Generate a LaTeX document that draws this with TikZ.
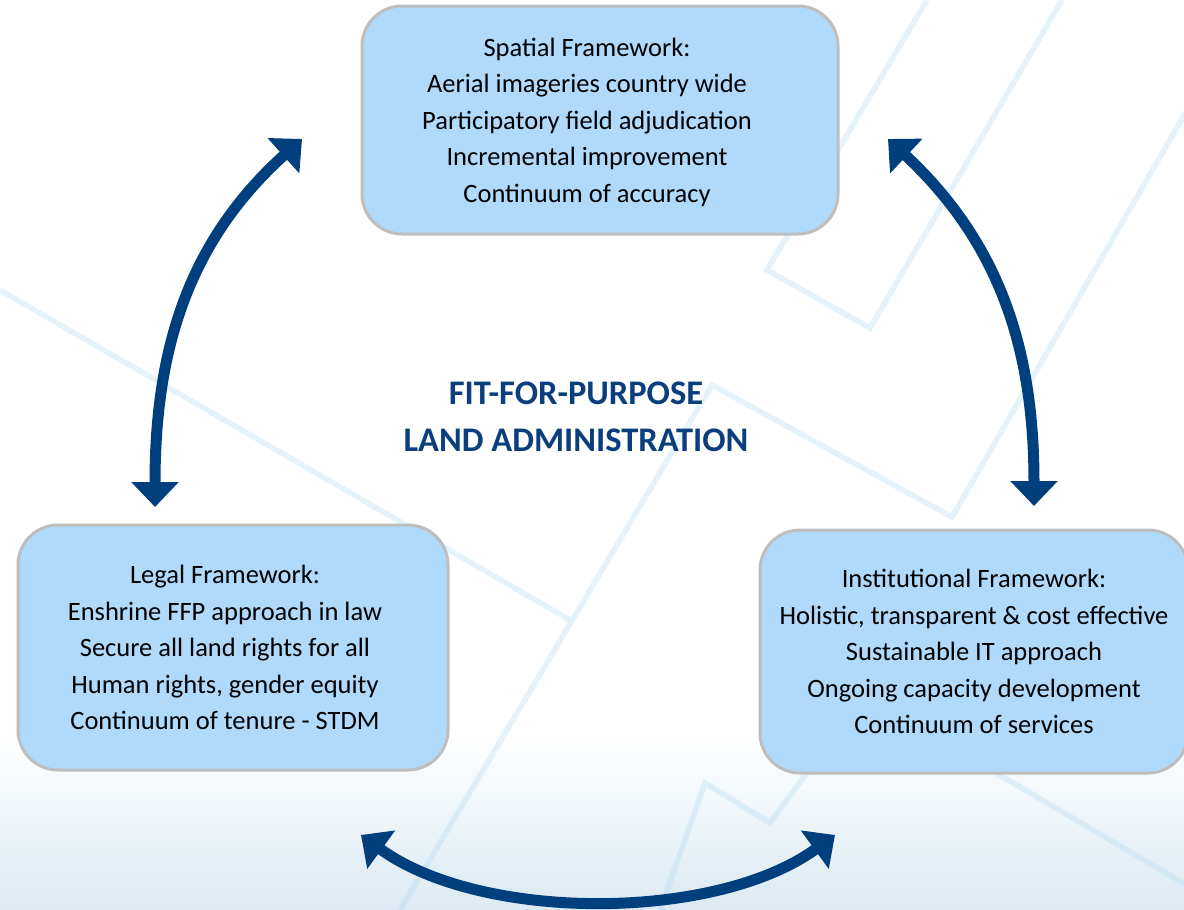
\documentclass[tikz,border=0pt]{standalone}
\usepackage{fontspec}
\setmainfont{Carlito}
\usetikzlibrary{arrows.meta, positioning}

\definecolor{boxblue}{RGB}{176,218,252}
\definecolor{boxgray}{RGB}{190,190,190}
\definecolor{arrowblue}{RGB}{0,63,125}
\definecolor{titleblue}{RGB}{10,62,125}
\definecolor{bgblue}{RGB}{219,234,242}
\definecolor{faintblue}{RGB}{170,215,240}

\begin{document}
\begin{tikzpicture}[x=1pt, y=1pt,
    panel/.style={draw=boxgray, line width=3pt, fill=boxblue, rounded corners=40pt, inner sep=0pt},
    paneltext/.style={align=center, inner sep=0pt, font=\fontsize{26.5}{36.5}\selectfont},
    heading/.style={align=center, text=titleblue, font=\fontsize{34.5}{47}\selectfont\bfseries},
    bigarrow/.style={draw=arrowblue, line width=11pt,
        {Triangle[width=46pt,length=25pt]}-{Triangle[width=46pt,length=25pt]}},
    faint/.style={draw=faintblue, line width=5.5pt, opacity=0.3}]

    \useasboundingbox (0,0) rectangle (1184,-910);
    \fill[white] (0,0) rectangle (1184,-910);
    \shade[top color=white, bottom color=bgblue] (0,-735) rectangle (1184,-910);

    % watermark lines
    \draw[faint] (0,-290) -- (570,-620);
    \draw[faint] (400,-910) -- (712,-385) -- (952,-517) -- (1190,-105);
    \draw[faint] (927,0) -- (767,-270) -- (870,-328) -- (1062,0);
    \draw[faint] (660,-910) -- (705,-783) -- (770,-823) -- (860,-700);
    \draw[faint] (940,-740) -- (1190,-887);

    % the three frameworks
    \node[panel, minimum width=476pt, minimum height=228pt] (spatial) at (600,-120) {};
    \node[panel, minimum width=430pt, minimum height=245pt] (legal) at (233,-647.5) {};
    \node[panel, minimum width=428pt, minimum height=243pt] (institutional) at (974,-651.5) {};

    \node[paneltext] (spatialtext) at ([xshift=-13pt, yshift=-2pt]spatial.center)
        {Spatial Framework:\\ Aerial imageries country wide\\ Participatory field adjudication\\
         Incremental improvement\\ Continuum of accuracy};
    \node[paneltext] (legaltext) at ([xshift=-8pt]legal.center)
        {Legal Framework:\\ Enshrine FFP approach in law\\ Secure all land rights for all\\
         Human rights, gender equity\\ Continuum of tenure - STDM};
    \node[paneltext] (institutionaltext) at (institutional.center)
        {Institutional Framework:\\ Holistic, transparent \& cost effective\\ Sustainable IT approach\\
         Ongoing capacity development\\ Continuum of services};

    \node[heading] (title) at (576,-416.5) {FIT-FOR-PURPOSE\\ LAND ADMINISTRATION};

    % arrow ends
    \coordinate (lt) at (302,-139);
    \coordinate (lb) at (155,-507);
    \coordinate (rt) at (888,-139);
    \coordinate (rb) at (1034,-506);
    \coordinate (bl) at (361,-835);
    \coordinate (br) at (835,-835);

    \draw[bigarrow] (lt) to[out=222, in=90] (lb);
    \draw[bigarrow] (rt) to[out=-43, in=90] (rb);
    \draw[bigarrow, looseness=0.8] (bl) to[out=-36, in=216] (br);
\end{tikzpicture}
\end{document}
